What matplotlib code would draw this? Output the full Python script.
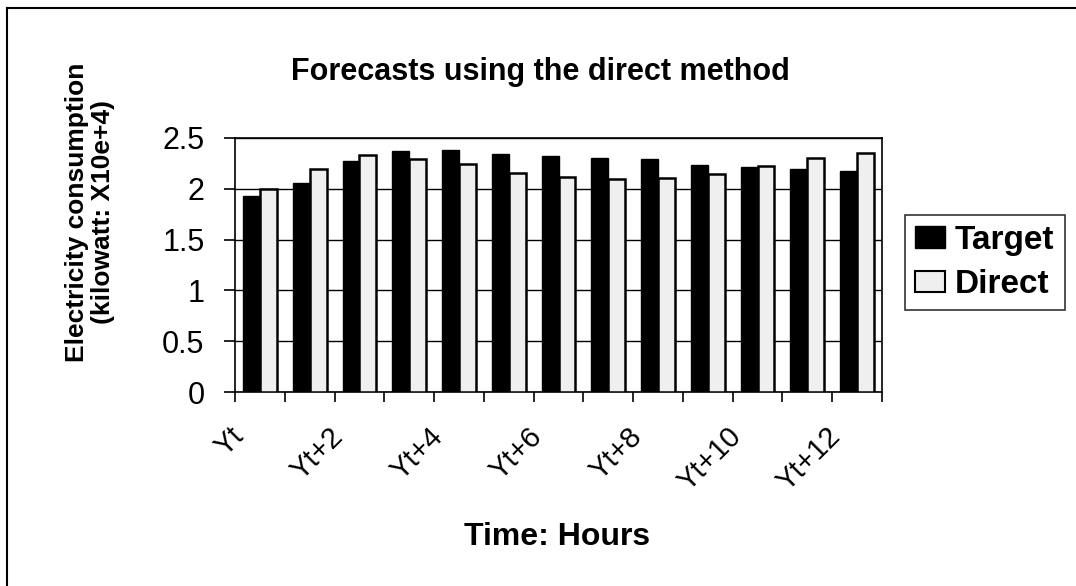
import matplotlib
matplotlib.use("Agg")
import matplotlib.pyplot as plt
import matplotlib.patches as mpatches
from matplotlib.lines import Line2D
import numpy as np

plt.rcParams["font.family"] = ["Liberation Sans", "DejaVu Sans"]

# data (kilowatt x 10e+4)
categories = ["Yt"] + [f"Yt+{i}" for i in range(1, 13)]
target = [1.93, 2.06, 2.27, 2.37, 2.38, 2.34, 2.32, 2.30, 2.29, 2.23, 2.21, 2.19, 2.18]
direct = [2.00, 2.19, 2.33, 2.29, 2.24, 2.16, 2.12, 2.10, 2.11, 2.15, 2.22, 2.30, 2.35]
yticks = [0, 0.5, 1, 1.5, 2, 2.5]
ytick_labels = ["0", "0.5", "1", "1.5", "2", "2.5"]

W, H = 1076, 586
fig = plt.figure(figsize=(W / 100, H / 100), dpi=100, facecolor="white")
ax = fig.add_axes([235 / W, 1 - 392 / H, (882 - 235) / W, (392 - 138) / H])

x = np.arange(len(categories))
bw = 0.34
ax.bar(x - bw / 2, target, width=bw, color="black", edgecolor="black", linewidth=1, zorder=3)
ax.bar(x + bw / 2, direct, width=bw, color="#efefef", edgecolor="black", linewidth=1.8, zorder=3)

ax.set_xlim(-0.5, len(categories) - 0.5)
ax.set_ylim(0, 2.5)
ax.set_yticks(yticks)
ax.set_yticklabels(ytick_labels, fontsize=22)
ax.yaxis.grid(True, color="black", linewidth=1)
ax.set_axisbelow(True)

# ticks between categories, labels on every second category
ax.set_xticks(np.arange(-0.5, len(categories)), minor=False)
ax.set_xticklabels([])
ax.set_xticks(x[::2] - 0.42, minor=True)
ax.set_xticklabels(categories[::2], minor=True, rotation=45, ha="right",
                   va="center", rotation_mode="anchor", fontsize=21)
ax.tick_params(axis="x", which="minor", length=0, pad=29)
ax.tick_params(axis="x", which="major", direction="out", length=7, width=1.2)
ax.tick_params(axis="y", direction="out", length=8, width=1.2, pad=14)
for s in ax.spines.values():
    s.set_color("black")
    s.set_linewidth(1.2)

fig.text(540 / W, 1 - 72 / H, "Forecasts using the direct method", fontsize=22,
         fontweight="bold", ha="center", va="center")
fig.text(557 / W, 1 - 537 / H, "Time: Hours", fontsize=23, fontweight="bold",
         ha="center", va="center")
fig.text(90 / W, 1 - 212 / H, "Electricity consumption\n(kilowatt: X10e+4)",
         fontsize=19, fontweight="bold", rotation=90, ha="center", va="center",
         multialignment="center", linespacing=1.1)

handles = [mpatches.Patch(facecolor="black", edgecolor="black", label="Target"),
           mpatches.Patch(facecolor="#efefef", edgecolor="black", linewidth=1.5, label="Direct")]
leg = fig.legend(handles=handles, loc="upper left", bbox_to_anchor=(905 / W, 1 - 215 / H),
                 prop={"weight": "bold", "size": 24}, frameon=True, fancybox=False,
                 edgecolor="black", handlelength=0.9, handleheight=0.62,
                 handletextpad=0.3, labelspacing=0.4, borderpad=0.3, borderaxespad=0)
leg.get_frame().set_linewidth(1.2)

# scanned page border (top and left)
fig.add_artist(Line2D([7 / W, 7 / W], [0, 1 - 8 / H], color="black", lw=1.5))
fig.add_artist(Line2D([7 / W, 1], [1 - 8 / H, 1 - 8 / H], color="black", lw=1.5))

fig.savefig("out.png", dpi=100, facecolor="white")
